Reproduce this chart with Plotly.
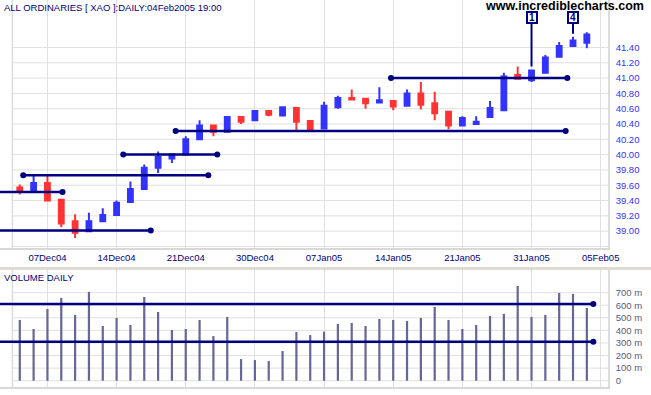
import plotly.graph_objects as go

# ---------------- data ----------------
dates = ["2004-12-03", "2004-12-06", "2004-12-07", "2004-12-08", "2004-12-09", "2004-12-10",
         "2004-12-13", "2004-12-14", "2004-12-15", "2004-12-16", "2004-12-17", "2004-12-20",
         "2004-12-21", "2004-12-22", "2004-12-23", "2004-12-24", "2004-12-29", "2004-12-30",
         "2004-12-31", "2005-01-04", "2005-01-05", "2005-01-06", "2005-01-07", "2005-01-10",
         "2005-01-11", "2005-01-12", "2005-01-13", "2005-01-14", "2005-01-17", "2005-01-18",
         "2005-01-19", "2005-01-20", "2005-01-21", "2005-01-24", "2005-01-25", "2005-01-27",
         "2005-01-28", "2005-01-31", "2005-02-01", "2005-02-02", "2005-02-03", "2005-02-04"]

opens = [39.57, 39.51, 39.63, 39.41, 39.13, 39.00, 39.13, 39.21, 39.38, 39.55, 39.83, 39.95,
         40.00, 40.20, 40.38, 40.30, 40.49, 40.45, 40.57, 40.51, 40.61, 40.44, 40.34, 40.62,
         40.74, 40.73, 40.68, 40.70, 40.64, 40.80, 40.67, 40.56, 40.38, 40.40, 40.49, 40.58,
         41.04, 40.97, 41.07, 41.28, 41.42, 41.46]
highs = [39.61, 39.74, 39.72, 39.41, 39.22, 39.24, 39.30, 39.40, 39.65, 39.87, 40.04, 40.00,
         40.24, 40.45, 40.38, 40.49, 40.49, 40.57, 40.57, 40.63, 40.61, 40.44, 40.69, 40.77,
         40.85, 40.74, 40.88, 40.70, 40.85, 40.95, 40.82, 40.56, 40.50, 40.50, 40.70, 41.07,
         41.15, 41.11, 41.30, 41.47, 41.54, 41.60]
lows = [39.48, 39.51, 39.40, 39.05, 38.91, 39.00, 39.13, 39.21, 39.38, 39.55, 39.76, 39.89,
        40.00, 40.20, 40.24, 40.30, 40.40, 40.45, 40.50, 40.50, 40.31, 40.31, 40.34, 40.60,
        40.72, 40.60, 40.68, 40.58, 40.64, 40.59, 40.45, 40.33, 40.38, 40.40, 40.49, 40.58,
        40.99, 40.95, 41.07, 41.28, 41.42, 41.39]
closes = [39.51, 39.63, 39.40, 39.10, 38.98, 39.13, 39.21, 39.37, 39.55, 39.83, 39.97, 40.00,
          40.20, 40.38, 40.30, 40.49, 40.43, 40.57, 40.52, 40.62, 40.43, 40.33, 40.64, 40.74,
          40.72, 40.67, 40.71, 40.63, 40.80, 40.65, 40.54, 40.38, 40.48, 40.43, 40.61, 41.02,
          40.99, 41.10, 41.27, 41.42, 41.49, 41.57]
volumes_m = [483, 411, 570, 658, 523, 706, 435, 499, 443, 666, 546, 403, 411, 483, 355, 507,
             172, 164, 156, 236, 387, 363, 390, 451, 459, 435, 491, 483, 475, 499, 586, 483,
             411, 443, 515, 531, 753, 507, 523, 698, 690, 578]

tick_dates = ["2004-12-07", "2004-12-14", "2004-12-21", "2004-12-30", "2005-01-07",
              "2005-01-14", "2005-01-21", "2005-01-31", "2005-02-05"]
tick_labels = ["07Dec04", "14Dec04", "21Dec04", "30Dec04", "07Jan05",
               "14Jan05", "21Jan05", "31Jan05", "05Feb05"]

price_ticks = [38.8, 39.0, 39.2, 39.4, 39.6, 39.8, 40.0, 40.2, 40.4, 40.6, 40.8, 41.0, 41.2, 41.4]
price_tick_labels = ["", "39.00", "39.20", "39.40", "39.60", "39.80", "40.00", "40.20",
                     "40.40", "40.60", "40.80", "41.00", "41.20", "41.40"]
vol_ticks = [0, 100, 200, 300, 400, 500, 600, 700]
vol_tick_labels = ["0", "100 m", "200 m", "300 m", "400 m", "500 m", "600 m", "700 m"]

# support / resistance lines drawn on the chart (trading-day position, None = from off-chart left)
price_line_levels = [39.01, 39.51, 39.73, 40.00, 40.31, 41.00]
price_line_starts = [None, None, 0.25, 7.48, 11.27, 26.84]
price_line_ends = [9.47, 3.09, 13.63, 14.28, 39.47, 39.59]
vol_line_levels = [610, 310]
vol_line_ends = [41.47, 41.47]

wave_labels = ["1", "4"]
wave_dates = ["2005-01-31", "2005-02-03"]

# ---------------- figure ----------------
BLUE = "#3333ff"
RED = "#ff3333"
NAVY = "#000080"
GRID = "#e0e0e0"
FONT = "Liberation Sans, Arial, sans-serif"

idx = list(range(len(dates)))
tick_pos = [dates.index(d) if d in dates else len(dates) for d in tick_dates]
x_min, x_max = -1.43, 42.53
frame_left = -0.53

fig = go.Figure()

fig.add_trace(go.Candlestick(
    x=idx, open=opens, high=highs, low=lows, close=closes,
    increasing=dict(line=dict(color=BLUE, width=2), fillcolor=BLUE),
    decreasing=dict(line=dict(color=RED, width=2), fillcolor=RED),
    whiskerwidth=0, showlegend=False, hoverinfo="skip", xaxis="x", yaxis="y"))

for lvl, s, e in zip(price_line_levels, price_line_starts, price_line_ends):
    x0 = x_min - 2 if s is None else s
    fig.add_trace(go.Scatter(
        x=[x0, e], y=[lvl, lvl], mode="lines+markers",
        line=dict(color=NAVY, width=2.5), marker=dict(color=NAVY, size=6),
        showlegend=False, hoverinfo="skip", xaxis="x", yaxis="y"))

fig.add_trace(go.Bar(
    x=idx, y=volumes_m, width=0.16, marker=dict(color="#666699", line=dict(width=0)),
    showlegend=False, hoverinfo="skip", xaxis="x2", yaxis="y2"))

for lvl, e in zip(vol_line_levels, vol_line_ends):
    fig.add_trace(go.Scatter(
        x=[x_min - 2, e], y=[lvl, lvl], mode="lines+markers",
        line=dict(color=NAVY, width=2.5), marker=dict(color=NAVY, size=6),
        showlegend=False, hoverinfo="skip", xaxis="x2", yaxis="y2"))

# wave count labels
for lab, d in zip(wave_labels, wave_dates):
    i = dates.index(d)
    fig.add_annotation(
        x=i, y=highs[i] + 0.04, xref="x", yref="y",
        ax=i, ay=41.785, axref="x", ayref="y",
        text="<b>%s</b>" % lab, showarrow=True, arrowhead=0, arrowwidth=2,
        arrowcolor=NAVY, font=dict(family=FONT, size=10, color=NAVY),
        bgcolor="white", bordercolor=NAVY, borderwidth=2, borderpad=0,
        width=8, height=9, standoff=0, startstandoff=0)

fig.add_annotation(x=0, y=1, xref="paper", yref="paper", xanchor="left", yanchor="top",
                   xshift=2, yshift=0, showarrow=False,
                   text="ALL ORDINARIES [ XAO ]:DAILY:04Feb2005 19:00",
                   font=dict(family=FONT, size=9.5, color=NAVY))
fig.add_annotation(x=0, y=(387 - 270) / 387, xref="paper", yref="paper", xanchor="left",
                   yanchor="top", xshift=2, yshift=0, showarrow=False, text="VOLUME DAILY",
                   font=dict(family=FONT, size=9.5, color=NAVY))
fig.add_annotation(x=646 / 608, y=1, xref="paper", yref="paper", xanchor="right", yanchor="top",
                   yshift=3, showarrow=False, text="<b>www.incrediblecharts.com</b>",
                   font=dict(family=FONT, size=12.5, color="black"))

shapes = []
# horizontal gridlines start at the chart frame (not at the canvas edge)
for t in price_ticks:
    shapes.append(dict(type="line", xref="x", yref="y", x0=frame_left, x1=x_max + 1, y0=t, y1=t,
                       line=dict(color=GRID, width=1), layer="below"))
for t in vol_ticks:
    shapes.append(dict(type="line", xref="x2", yref="y2", x0=frame_left, x1=x_max + 1, y0=t, y1=t,
                       line=dict(color=GRID, width=1), layer="below"))
for xr, yr in (("x", "y domain"), ("x2", "y2 domain")):
    shapes.append(dict(type="line", xref=xr, yref=yr, x0=frame_left, x1=frame_left, y0=0, y1=1,
                       line=dict(color="#dcdcdc", width=1.5), layer="below"))
# separator band between panels
shapes.append(dict(type="line", xref="paper", yref="paper", x0=0, x1=651 / 608,
                   y0=(387 - 268.5) / 387, y1=(387 - 268.5) / 387,
                   line=dict(color="#dcdcd4", width=3)))

fig.update_layout(
    width=651, height=395,
    margin=dict(l=0, r=43, t=0, b=8, autoexpand=False),
    paper_bgcolor="white", plot_bgcolor="white",
    boxgap=0.5, boxgroupgap=0.3,
    shapes=shapes,
    showlegend=False,
    xaxis=dict(domain=[0, 1], range=[x_min, x_max], anchor="y",
               tickvals=tick_pos, ticktext=tick_labels, ticks="",
               tickfont=dict(family=FONT, size=9.5, color=NAVY),
               showgrid=True, gridcolor=GRID, gridwidth=1, zeroline=False,
               showline=True, linecolor="#d8d8d8", linewidth=2,
               rangeslider=dict(visible=False)),
    yaxis=dict(domain=[(387 - 248) / 387, 1], range=[38.78, 42.02], anchor="x", side="right",
               tickvals=price_ticks, ticktext=price_tick_labels, ticks="",
               ticklabelstandoff=4,
               tickfont=dict(family=FONT, size=9.5, color=BLUE),
               showgrid=False, zeroline=False,
               showline=True, linecolor="#dcdcdc", linewidth=1.5),
    xaxis2=dict(domain=[0, 1], range=[x_min, x_max], anchor="y2", matches="x",
                tickvals=tick_pos, showticklabels=False, ticks="",
                showgrid=True, gridcolor=GRID, gridwidth=1, zeroline=False,
                showline=True, linecolor="#d8d8d8", linewidth=2),
    yaxis2=dict(domain=[0, (387 - 270) / 387], range=[-50, 880], anchor="x2", side="right",
                tickvals=vol_ticks, ticktext=vol_tick_labels, ticks="",
                ticklabelstandoff=4,
                tickfont=dict(family=FONT, size=9.5, color="#5a5a80"),
                showgrid=False, zeroline=False,
                showline=True, linecolor="#dcdcdc", linewidth=1.5),
)

fig.write_html("out.html", config={"displayModeBar": False},
               post_script="document.body.style.margin='0px';")
